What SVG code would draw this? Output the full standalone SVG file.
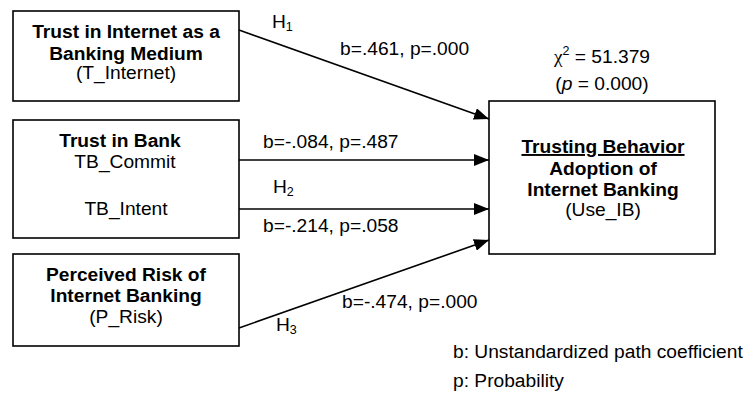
<svg xmlns="http://www.w3.org/2000/svg" width="749" height="393" viewBox="0 0 749 393">
<defs>
<style>
.box{fill:#fff;stroke:#000;stroke-width:1.6}
.t{font-family:"Liberation Sans",Arial,sans-serif;font-size:19.2px;fill:#000}
.b{font-weight:bold}
.m{text-anchor:middle}
.edge{stroke:#000;stroke-width:1.6;fill:none;marker-end:url(#arr)}
</style>
<marker id="arr" markerUnits="userSpaceOnUse" markerWidth="16" markerHeight="12" refX="15" refY="6" orient="auto">
<path d="M0,0 L15,6 L0,12 Z" fill="#000"/>
</marker>
</defs>
<rect width="749" height="393" fill="#fff"/>
<g id="connectors">
<line class="edge" x1="239" y1="30" x2="489" y2="119"/>
<line class="edge" x1="239" y1="160" x2="489" y2="160"/>
<line class="edge" x1="239" y1="209" x2="489" y2="209"/>
<line class="edge" x1="239" y1="328" x2="489" y2="240"/>
<text class="t" x="272" y="28">H<tspan font-size="12.5" dy="3">1</tspan></text>
<text class="t" x="340" y="55">b=.461, p=.000</text>
<text class="t" x="263" y="148">b=-.084, p=.487</text>
<text class="t" x="273" y="193">H<tspan font-size="12.5" dy="3">2</tspan></text>
<text class="t" x="263" y="232">b=-.214, p=.058</text>
<text class="t" x="342" y="308">b=-.474, p=.000</text>
<text class="t" x="276" y="331">H<tspan font-size="12.5" dy="3">3</tspan></text>
</g>
<g id="T_Internet">
<rect class="box" x="13" y="11" width="226" height="90"/>
<text class="t b m" x="126" y="38">Trust in Internet as a</text>
<text class="t b m" x="126" y="60">Banking Medium</text>
<text class="t m" x="126" y="79">(T_Internet)</text>
</g>
<g id="TrustInBank">
<rect class="box" x="13" y="120" width="226" height="118"/>
<text class="t b m" x="120" y="147">Trust in Bank</text>
<text class="t m" x="125" y="168">TB_Commit</text>
<text class="t m" x="126" y="215">TB_Intent</text>
</g>
<g id="P_Risk">
<rect class="box" x="13" y="254" width="226" height="92"/>
<text class="t b m" x="126" y="281">Perceived Risk of</text>
<text class="t b m" x="126" y="302">Internet Banking</text>
<text class="t m" x="126" y="323">(P_Risk)</text>
</g>
<g id="Use_IB">
<text class="t m" x="602" y="63"><tspan font-family="Liberation Serif,serif">χ</tspan><tspan font-size="12.5" dy="-8">2</tspan><tspan dy="8"> = 51.379</tspan></text>
<text class="t m" x="602" y="90">(<tspan font-style="italic">p</tspan> = 0.000)</text>
<rect class="box" x="489" y="101" width="226" height="153"/>
<text class="t b m" x="603" y="153" text-decoration="underline">Trusting Behavior</text>
<text class="t b m" x="603" y="175">Adoption of</text>
<text class="t b m" x="603" y="196">Internet Banking</text>
<text class="t m" x="603" y="216">(Use_IB)</text>
</g>
<g id="legend">
<text class="t" x="453" y="358">b: Unstandardized path coefficient</text>
<text class="t" x="453" y="387">p: Probability</text>
</g>
</svg>
